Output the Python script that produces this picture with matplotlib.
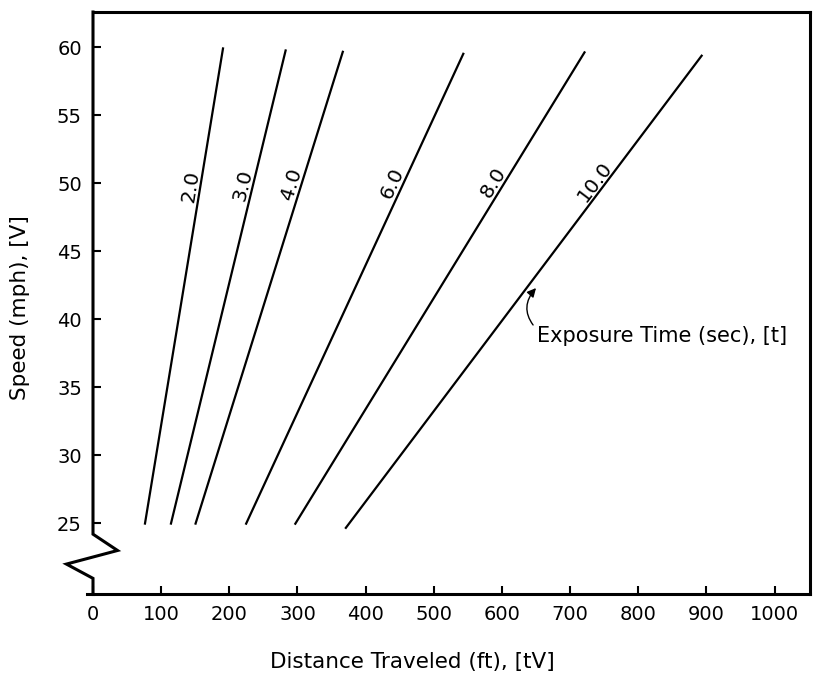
import numpy as np
import matplotlib
matplotlib.use("Agg")
import matplotlib.pyplot as plt

# Exposure time curves: distance travelled (ft) vs. speed (mph)
exposure_times = [2.0, 3.0, 4.0, 6.0, 8.0, 10.0]
time_labels = ["2.0", "3.0", "4.0", "6.0", "8.0", "10.0"]
speed_low = [24.9, 24.9, 24.9, 24.9, 24.9, 24.6]
speed_high = [60.0, 59.85, 59.75, 59.6, 59.7, 59.45]
dist_low = [76, 114, 150, 224, 296, 370]
dist_high = [191, 283, 367, 544, 722, 894]

x_ticks = [0, 100, 200, 300, 400, 500, 600, 700, 800, 900, 1000]
y_ticks = [25, 30, 35, 40, 45, 50, 55, 60]

FONT = "DejaVu Sans"
plt.rcParams["font.family"] = FONT

W, H = 814, 673
fig = plt.figure(figsize=(W / 100, H / 100), dpi=100)
ax = fig.add_axes([93 / W, 79 / H, 717 / W, 582 / H])

x_min, x_max = 0, 1052
y_min, y_max = 19.8, 62.6
ax.set_xlim(x_min, x_max)
ax.set_ylim(y_min, y_max)

# frame
for side in ("top", "right", "bottom"):
    ax.spines[side].set_linewidth(2.2)
ax.spines["left"].set_visible(False)

# left axis with a break (zig-zag) below 25 mph
break_x = [0, 0, 36, -39, 0, 0]
break_y = [y_max, 24.2, 23.0, 22.0, 20.95, y_min]
ax.plot(break_x, break_y, color="black", lw=2.2, clip_on=False,
        solid_joinstyle="miter", zorder=5)
# small overhang of the bottom axis left of zero
ax.plot([-9, 0], [y_min, y_min], color="black", lw=2.2, clip_on=False, zorder=5)

ax.set_xticks(x_ticks)
ax.set_yticks(y_ticks)
ax.set_xticklabels([str(v) for v in x_ticks])
ax.set_yticklabels([str(v) for v in y_ticks])
ax.tick_params(axis="x", direction="in", length=6, width=1.5, labelsize=14, pad=8)
ax.tick_params(axis="y", direction="in", length=6, width=1.5, labelsize=14, pad=8)

for i, t in enumerate(exposure_times):
    xs = [dist_low[i], dist_high[i]]
    ys = [speed_low[i], speed_high[i]]
    ax.plot(xs, ys, color="black", lw=1.6, solid_capstyle="butt")

fig.canvas.draw()

# labels along each line, rotated with the line
label_speed = 49.7
for i, lab in enumerate(time_labels):
    xs = [dist_low[i], dist_high[i]]
    ys = [speed_low[i], speed_high[i]]
    xl = np.interp(label_speed, ys, xs)
    p0 = ax.transData.transform((xs[0], ys[0]))
    p1 = ax.transData.transform((xs[1], ys[1]))
    ang = np.degrees(np.arctan2(p1[1] - p0[1], p1[0] - p0[0]))
    th = np.radians(ang)
    off = 7.0
    ax.annotate(lab, (xl, label_speed),
                xytext=(-np.sin(th) * off, np.cos(th) * off),
                textcoords="offset points", rotation=ang,
                rotation_mode="anchor", ha="center", va="center",
                fontsize=14.5)

ax.annotate("Exposure Time (sec), [t]", xy=(650, 42.3), xytext=(651, 38.75),
            ha="left", va="center", fontsize=15,
            arrowprops=dict(arrowstyle="-|>", color="black", lw=1.0,
                            mutation_scale=13, shrinkA=1, shrinkB=0,
                            relpos=(0.0, 0.85),
                            connectionstyle="arc3,rad=-0.45"))

fig.text(412 / W, 1 - 662 / H, "Distance Traveled (ft), [tV]",
         ha="center", va="center", fontsize=15.5)
fig.text(20 / W, 1 - 308 / H, "Speed (mph), [V]", rotation=90,
         ha="center", va="center", fontsize=15.5)

fig.savefig("out.png", dpi=100)
